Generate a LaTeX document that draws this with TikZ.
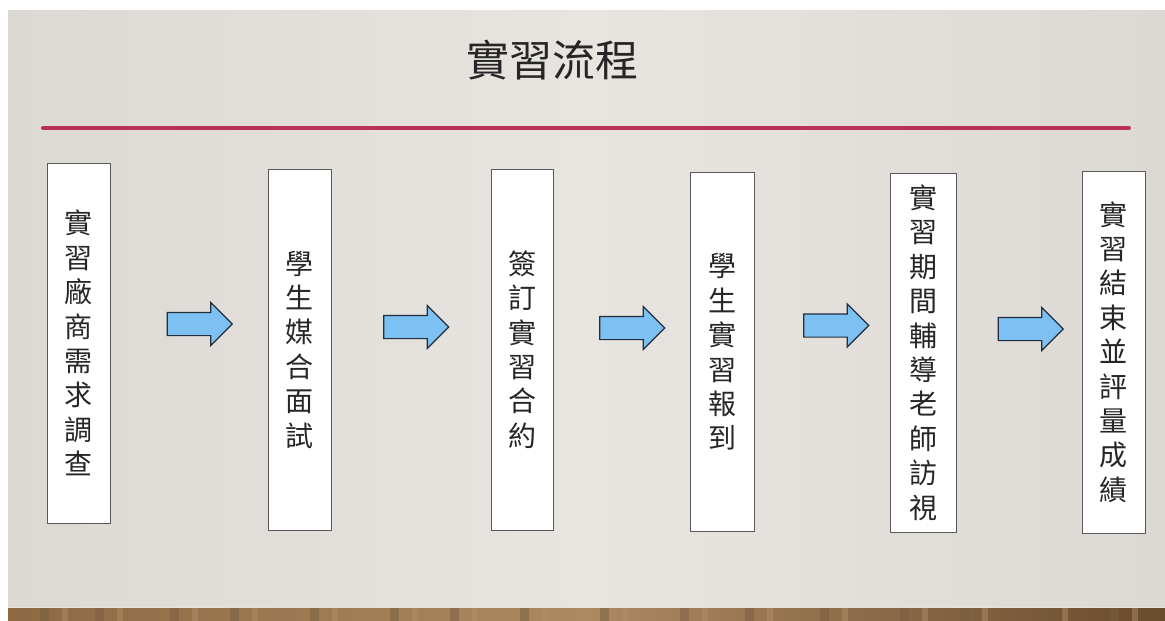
\documentclass[tikz,border=0pt]{standalone}
\usepackage{fontspec}
\newfontfamily\cjk{Noto Sans CJK TC}
\usetikzlibrary{shapes.arrows}
\definecolor{bgmid}{RGB}{232,229,225}
\definecolor{bgedge}{RGB}{220,217,212}
\definecolor{rule}{RGB}{186,48,88}
\definecolor{arrowfill}{RGB}{125,192,242}
\definecolor{arrowline}{RGB}{35,45,60}
\definecolor{wood}{RGB}{142,106,68}
\definecolor{wooddark}{RGB}{105,75,45}
\definecolor{woodlight}{RGB}{180,145,105}
\tikzset{
  stepbox/.style={draw=black!65, line width=0.9pt, fill=white, inner sep=0pt, align=center, text=black!85,
    font=\cjk\fontsize{28}{34.4}\selectfont},
  flowarrow/.style={single arrow, draw=arrowline, fill=arrowfill, line width=1.2pt,
    inner sep=11pt, minimum height=65pt, single arrow head extend=10pt, single arrow tip angle=90},
}
\begin{document}
\begin{tikzpicture}[x=1pt,y=-1pt]
\useasboundingbox (0,0) rectangle (1165,621);
\fill[white] (0,0) rectangle (1165,621);
% background
\shade[left color=bgedge, right color=bgedge, middle color=bgmid] (8,10) rectangle (1165,607);
% wood floor
\shade[left color=wood, right color=wooddark, middle color=woodlight!80!wood] (8,607) rectangle (1165,621);
\foreach \x in {40,95,170,230,310,390,450,520,600,680,745,820,900,960,1040,1110}{
  \fill[wooddark!90, opacity=0.5] (\x,608) rectangle ++(9,13);
  \fill[woodlight, opacity=0.45] (\x+22,608) rectangle ++(6,13);
}
\draw[white!80!wood, line width=1pt] (8,607) -- (1165,607);
% title
\node[font=\cjk\fontsize{43}{43}\selectfont, text=black!85] (title) at (552,60) {實習流程};
% rule
\coordinate (ruleL) at (43,128);
\coordinate (ruleR) at (1129,128);
\draw[rule, line width=4pt, line cap=round] (ruleL) -- (ruleR);
% boxes
\node[stepbox, minimum width=63pt, minimum height=360pt] (s1) at (78.5,343)
  {實\\習\\廠\\商\\需\\求\\調\\查};
\node[stepbox, minimum width=63pt, minimum height=361pt] (s2) at (299.5,349.5)
  {學\\生\\媒\\合\\面\\試};
\node[stepbox, minimum width=62pt, minimum height=361pt] (s3) at (522,349.5)
  {簽\\訂\\實\\習\\合\\約};
\node[stepbox, minimum width=64pt, minimum height=359pt] (s4) at (722,352)
  {學\\生\\實\\習\\報\\到};
\node[stepbox, minimum width=66pt, minimum height=359pt] (s5) at (923.5,352.5)
  {實\\習\\期\\間\\輔\\導\\老\\師\\訪\\視};
\node[stepbox, minimum width=63pt, minimum height=362pt] (s6) at (1113.5,352)
  {實\\習\\結\\束\\並\\評\\量\\成\\績};
% arrows
\node[flowarrow] (a1) at (194,324) {};
\node[flowarrow] (a2) at (410.5,327) {};
\node[flowarrow] (a3) at (626.5,328) {};
\node[flowarrow] (a4) at (830.5,325.5) {};
\node[flowarrow] (a5) at (1025,329) {};
\end{tikzpicture}
\end{document}
